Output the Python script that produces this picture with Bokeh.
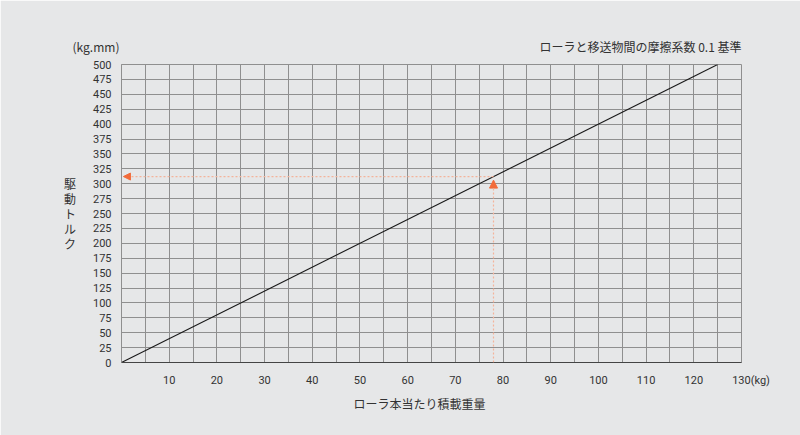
from bokeh.plotting import figure
from bokeh.models import (Range1d, FixedTicker, Arrow, NormalHead)
from bokeh.embed import file_html
from bokeh.resources import INLINE

# ---- data ----
load_kg = [0, 125]            # ローラ本当たり積載重量 (kg)
torque = [0, 500]             # 駆動トルク (kg.mm)
ref_load = 78                 # reference reading
ref_torque = 312
x_tick_values = [10, 20, 30, 40, 50, 60, 70, 80, 90, 100, 110, 120, 130]
y_tick_values = list(range(0, 501, 25))
x_grid_values = list(range(0, 131, 5))
title_text = "ローラと移送物間の摩擦系数 0.1 基準"
y_unit_text = "(kg.mm)"
x_unit_text = "(kg)"
y_label_text = "駆動トルク"
x_label_text = "ローラ本当たり積載重量"

BG = "#e6e7e8"
GRID = "#8f8f8f"
TXT = "#333333"
CJK = "Noto Sans CJK JP"

p = figure(width=800, height=435, output_backend="svg", toolbar_location=None,
           x_range=Range1d(0, 130), y_range=Range1d(0, 500),
           min_border_left=121, min_border_right=59,
           min_border_top=64, min_border_bottom=73)
p.background_fill_color = BG
p.border_fill_color = BG
p.outline_line_color = GRID
p.outline_line_width = 1

# top row: unit at left, caption at right (one title line)
p.title.text = y_unit_text + "\u3000" * 35 + title_text
p.title.align = "right"
p.title.text_font = CJK
p.title.text_font_size = "12px"
p.title.text_font_style = "normal"
p.title.text_color = TXT
p.title.standoff = 19

# grids
p.xgrid.ticker = FixedTicker(ticks=x_grid_values)
p.ygrid.ticker = FixedTicker(ticks=y_tick_values)
for g in (p.xgrid, p.ygrid):
    g.grid_line_color = GRID
    g.grid_line_width = 1

# axes
p.xaxis.ticker = FixedTicker(ticks=x_tick_values)
p.yaxis.ticker = FixedTicker(ticks=y_tick_values)
for ax in (p.xaxis, p.yaxis):
    ax.major_tick_line_color = None
    ax.minor_tick_line_color = None
    ax.major_label_text_font = "Roboto"
    ax.major_label_text_font_size = "11px"
    ax.major_label_text_color = TXT
    ax.axis_label_text_font = CJK
    ax.axis_label_text_font_size = "12px"
    ax.axis_label_text_font_style = "normal"
    ax.axis_label_text_color = TXT
p.xaxis.axis_line_color = "#444444"
p.xaxis.axis_line_width = 1.2
p.yaxis.axis_line_color = GRID
p.xaxis.major_label_standoff = 5
p.yaxis.major_label_standoff = 4
# unit after the last x tick
p.xaxis.major_label_overrides = {130: "\u00a0" * 7 + "130" + x_unit_text}

p.xaxis.axis_label = x_label_text + "\u3000\u3000"
p.xaxis.axis_label_standoff = 5
p.yaxis.axis_label = "\n".join(y_label_text)
p.yaxis.axis_label_orientation = "horizontal"
p.yaxis.axis_label_text_line_height = 0.89
p.yaxis.axis_label_standoff = 14

# main line
p.line(load_kg, torque, line_color="#1a1a1a", line_width=1.1)

# reference arrows
p.add_layout(Arrow(end=NormalHead(size=8, fill_color="#f26b3a", line_color="#f26b3a"),
                   x_start=ref_load, y_start=0, x_end=ref_load, y_end=ref_torque - 6,
                   line_color="#f4b39a", line_width=1.2, line_dash="2 2"))
p.add_layout(Arrow(end=NormalHead(size=7, fill_color="#f26b3a", line_color="#f26b3a"),
                   x_start=ref_load, y_start=ref_torque, x_end=0.4, y_end=ref_torque,
                   line_color="#f4b39a", line_width=1.2, line_dash="2 2"))

open("out.html", "w").write(file_html(p, INLINE))
